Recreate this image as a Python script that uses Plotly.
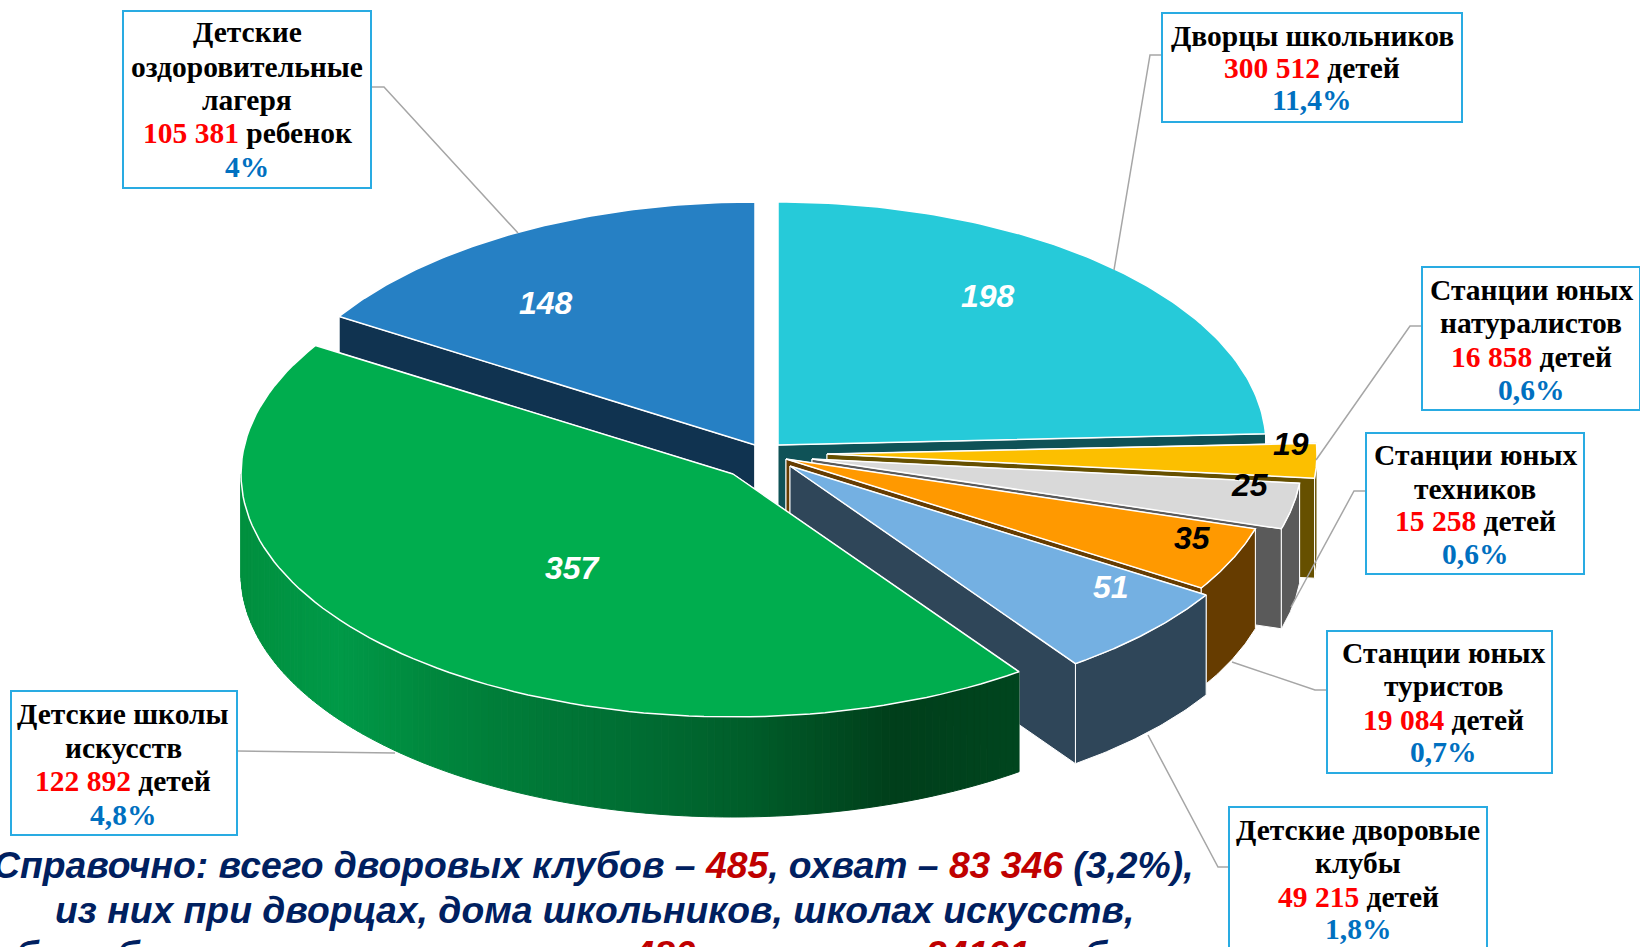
import numpy as np
import plotly.graph_objects as go

# ---- data ----
categories = ["Дворцы школьников", "Станции юных натуралистов", "Станции юных техников",
              "Станции юных туристов", "Детские дворовые клубы", "Детские школы искусств",
              "Детские оздоровительные лагеря"]
counts = [198, 19, 25, 35, 51, 357, 148]

# ---- look of the slices ----
top_colors = ["#26CAD9", "#FCBF00", "#D9D9D9", "#FF9900", "#74B0E2", "#00AD4E", "#2680C4"]
wall_colors = ["#0F5257", "#665000", "#5A5A5A", "#663C00", "#2F4659", "#00622C", "#103350"]
apex_x = [778, 827, 812, 786, 790, 733, 755]
apex_y = [445, 454, 459, 459, 466, 474, 445]
radius_x = [488, 490, 490, 490, 491, 492, 490]
label_x = [988, 1291, 1250, 1192, 1111, 573, 546]
label_y = [296, 444, 485, 538, 587, 568, 303]
label_col = ["white", "black", "black", "black", "white", "white", "white"]
RY, DEPTH = 243, 100
# perspective correction of the angles (degrees), interpolated over the pie
warp_at = [0, 85.6, 141.8, 296.0, 360]
warp_by = [0, 1.8, 2.7, 5.9, 0]
green_stops_x = [241, 340, 420, 485, 638, 740, 893, 1019]
green_stops_rgb = [(0, 144, 63), (0, 154, 72), (0, 138, 63), (0, 127, 58), (0, 109, 51), (0, 95, 43),
                   (0, 63, 27), (0, 70, 31)]

W, H = 1640, 947
fig = go.Figure()


def poly(xs, ys, fill, line="white", lw=1.0):
    fig.add_trace(go.Scatter(x=list(xs), y=list(ys), mode="lines", fill="toself", fillcolor=fill,
                             line=dict(color=line, width=lw), hoverinfo="skip", showlegend=False))


total = sum(counts)
edges = np.cumsum([0] + counts) / total * 360
edges = edges + np.interp(edges, warp_at, warp_by)


def rim(i, deg):
    t = np.radians(deg)
    return apex_x[i] + radius_x[i] * np.sin(t), apex_y[i] - RY * np.cos(t)


order = [0, 6, 1, 2, 3, 4, 5]  # back to front
for i in order:
    a0, a1 = edges[i], edges[i + 1]
    ax, ay = apex_x[i], apex_y[i]
    wall = wall_colors[i]
    # radial walls
    for a in (a0, a1):
        rx_, ry_ = rim(i, a)
        poly([ax, rx_, rx_, ax, ax], [ay, ry_, ry_ + DEPTH, ay + DEPTH, ay], wall)
    # outer wall
    lo, hi = max(a0, 90), min(a1, 270)
    if hi > lo:
        if i == 5:  # gradient on the big slice
            steps = np.linspace(lo, hi, 141)
            for s0, s1 in zip(steps[:-1], steps[1:]):
                x0, y0 = rim(i, s0)
                x1, y1 = rim(i, s1)
                mid = (x0 + x1) / 2
                c = [np.interp(mid, green_stops_x, [q[k] for q in green_stops_rgb]) for k in range(3)]
                col = "rgb(%d,%d,%d)" % tuple(c)
                poly([x0, x1, x1, x0, x0], [y0, y1, y1 + DEPTH, y0 + DEPTH, y0], col, line=col, lw=1)
        else:
            s = np.linspace(lo, hi, 40)
            xs, ys = rim(i, s)
            poly(np.r_[xs, xs[::-1], xs[0]], np.r_[ys, ys[::-1] + DEPTH, ys[0]], wall)
    # top
    s = np.linspace(a0, a1, 90)
    xs, ys = rim(i, s)
    poly(np.r_[ax, xs, ax], np.r_[ay, ys, ay], top_colors[i], lw=1.5)

# ---- leader lines ----
leaders = [
    ([371, 384, 518], [87, 87, 233]),
    ([1162, 1150, 1114], [55, 55, 270]),
    ([1422, 1410, 1316], [326, 326, 460]),
    ([1366, 1354, 1291], [491, 491, 607]),
    ([1327, 1315, 1232], [690, 690, 662]),
    ([1229, 1218, 1148], [867, 867, 735]),
    ([237, 395], [751, 753]),
]
for lx, ly in leaders:
    fig.add_trace(go.Scatter(x=lx, y=ly, mode="lines", line=dict(color="#A6A6A6", width=1.5),
                             hoverinfo="skip", showlegend=False))

annots = []


def text(x, y, s, size, family, color="black"):
    annots.append(dict(x=x / W, y=1 - y / H, xref="paper", yref="paper", text=s, showarrow=False,
                       xanchor="center", yanchor="middle", font=dict(size=size, family=family, color=color)))


for i in range(7):
    text(label_x[i], label_y[i], f"<b><i>{counts[i]}</i></b>", 32, "Liberation Sans", label_col[i])

RED = "#FF0000"
BLU = "#0070C0"


def red(s):
    return f"<span style='color:{RED}'>{s}</span>"


def blu(s):
    return f"<span style='color:{BLU}'>{s}</span>"


boxes = [
    (123, 371, 11, 188, 247, [33, 67, 100, 134, 167],
     ["Детские", "оздоровительные", "лагеря", red("105 381") + " ребенок", blu("4%")]),
    (1162, 1462, 13, 122, 1312, [36, 68, 101],
     ["Дворцы школьников", red("300 512") + " детей", blu("11,4%")]),
    (1422, 1640, 267, 410, 1531, [290, 323, 357, 390],
     ["Станции юных", "натуралистов", red("16 858") + " детей", blu("0,6%")]),
    (1366, 1584, 433, 574, 1475, [455, 489, 521, 554],
     ["Станции юных", "техников", red("15 258") + " детей", blu("0,6%")]),
    (1327, 1552, 631, 773, 1443, [653, 686, 720, 752],
     ["Станции юных", "туристов", red("19 084") + " детей", blu("0,7%")]),
    (1229, 1487, 807, 960, 1358, [830, 863, 897, 929],
     ["Детские дворовые", "клубы", red("49 215") + " детей", blu("1,8%")]),
    (11, 237, 691, 835, 123, [714, 748, 781, 815],
     ["Детские школы", "искусств", red("122 892") + " детей", blu("4,8%")]),
]
shapes = []
for x0, x1, y0, y1, cx, ys, lines in boxes:
    shapes.append(dict(type="rect", xref="x", yref="y", x0=x0, x1=x1, y0=y0, y1=y1,
                       line=dict(color="#29ABE2", width=2), fillcolor="white", layer="above"))
    for y, s in zip(ys, lines):
        text(cx, y - 0.5, f"<b>{s}</b>", 29.5, "Liberation Serif")


def dred(s):
    return f"<span style='color:#C00000'>{s}</span>"


foot = [
    (865, 593, "Справочно: всего дворовых клубов – " + dred("485") + ", охват – " + dred("83 346") + " (3,2%),"),
    (910, 594, "из них при дворцах, дома школьников, школах искусств,"),
    (954, 593, "общеобразовательных школах – " + dred("480") + ", охватом – " + dred("34191") + " ребенок"),
]
for y, x, s in foot:
    text(x, y, f"<b><i>{s}</i></b>", 37.3, "Liberation Sans", "#002060")

fig.update_layout(
    width=W, height=H, margin=dict(l=0, r=0, t=0, b=0), paper_bgcolor="white", plot_bgcolor="white",
    xaxis=dict(range=[0, W], visible=False, fixedrange=True),
    yaxis=dict(range=[H, 0], visible=False, fixedrange=True),
    showlegend=False, annotations=annots, shapes=shapes,
)
fig.write_html("out.html", config=dict(displayModeBar=False),
               post_script="document.body.style.margin='0';document.documentElement.style.overflow='hidden';")
